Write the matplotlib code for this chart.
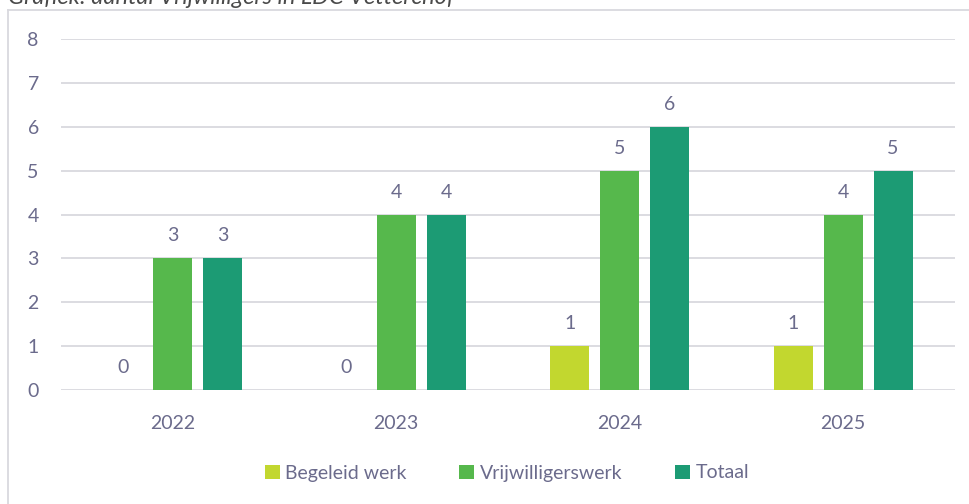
import matplotlib
matplotlib.use("Agg")
import matplotlib.pyplot as plt
from matplotlib.lines import Line2D
import numpy as np

years = ["2022", "2023", "2024", "2025"]
series_names = ["Begeleid werk", "Vrijwilligerswerk", "Totaal"]
begeleid_werk = [0, 0, 1, 1]
vrijwilligerswerk = [3, 4, 5, 4]
totaal = [3, 4, 6, 5]
y_ticks = [0, 1, 2, 3, 4, 5, 6, 7, 8]
title = "Grafiek: aantal Vrijwilligers in LDC Vetterchof"

colors = ["#C2D72F", "#56B84C", "#1C9B74"]
text_color = "#6B6B8C"
grid_color = "#D9D9DE"
fs = 14

plt.rcParams["font.family"] = ["Lato", "DejaVu Sans"]

fig = plt.figure(figsize=(9.69, 5.04), dpi=100)
ax = fig.add_axes([61 / 969, 1 - 390 / 504, (955 - 61) / 969, (390 - 39) / 504])

x = np.arange(len(years))
width = 0.174
step = 0.223
for i, (vals, name) in enumerate(zip([begeleid_werk, vrijwilligerswerk, totaal], series_names)):
    bars = ax.bar(x + (i - 1) * step, vals, width, color=colors[i], label=name, zorder=3)
    ax.bar_label(bars, labels=[str(v) for v in vals], padding=10, color=text_color, fontsize=fs)

ax.set_xlim(-0.5, len(years) - 0.5)
ax.set_ylim(0, 8)
ax.set_yticks(y_ticks)
ax.set_xticks(x)
ax.set_xticklabels(years)
ax.tick_params(axis="both", length=0, labelsize=fs, labelcolor=text_color)
ax.tick_params(axis="x", pad=18)
ax.tick_params(axis="y", pad=16)
ax.grid(axis="y", color=grid_color, linewidth=1.3, zorder=0)
for s in ax.spines.values():
    s.set_visible(False)

leg = fig.legend(loc="center", bbox_to_anchor=(507 / 969, 1 - 473 / 504), ncol=3, frameon=False,
                 handlelength=0.75, handleheight=0.75, handletextpad=0.3, columnspacing=2.7,
                 fontsize=fs, labelcolor=text_color)

# outer frame (top and left edges)
fig.add_artist(Line2D([8 / 969, 1.0], [1 - 10 / 504] * 2, color=grid_color, linewidth=1.3))
fig.add_artist(Line2D([8 / 969] * 2, [0, 1 - 10 / 504], color=grid_color, linewidth=1.3))

fig.text(8 / 969, 1 - 4 / 504, title, fontsize=17, style="italic", color="#4A4A4A",
         ha="left", va="baseline")

fig.savefig("out.png", dpi=100)
